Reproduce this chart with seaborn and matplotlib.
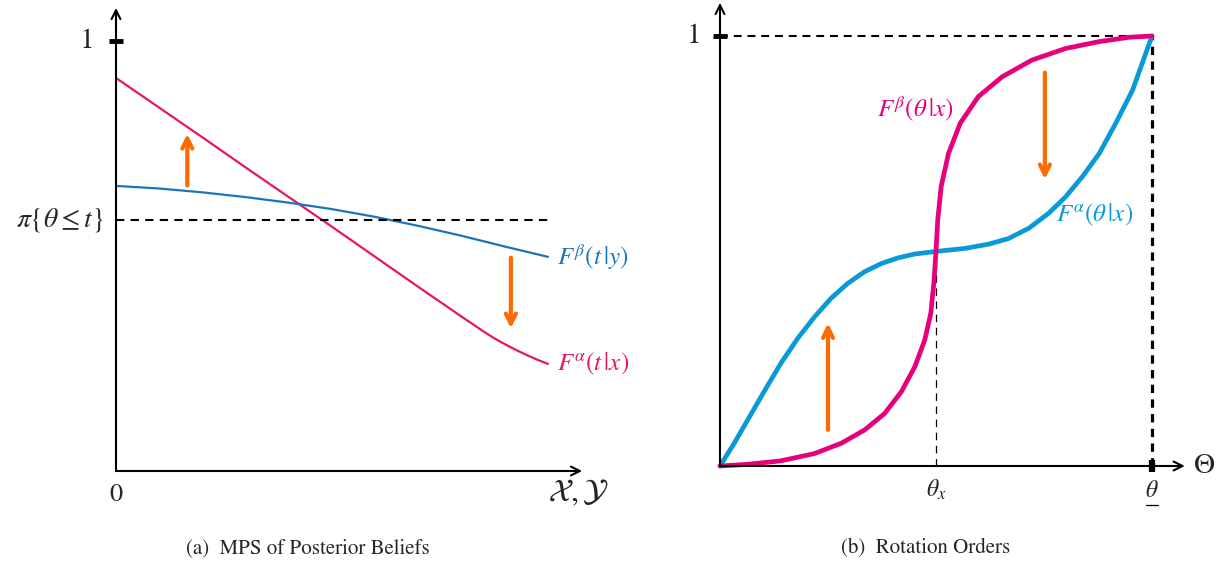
import numpy as np
import pandas as pd
import matplotlib
matplotlib.use("Agg")
import matplotlib.pyplot as plt
import seaborn as sns

# ---------------- data: panel (a) MPS of Posterior Beliefs ----------------
a_red_x = [0.000, 0.100, 0.200, 0.300, 0.400, 0.500, 0.600, 0.700, 0.800, 0.850,
           0.875, 0.900, 0.925, 0.950, 0.975, 1.000]
a_red_y = [0.914, 0.845, 0.776, 0.706, 0.637, 0.568, 0.498, 0.428, 0.359, 0.325,
           0.309, 0.295, 0.282, 0.270, 0.259, 0.249]
a_blue_x = [0.000, 0.100, 0.200, 0.300, 0.400, 0.500, 0.600, 0.700, 0.800, 0.900, 1.000]
a_blue_y = [0.663, 0.657, 0.648, 0.637, 0.624, 0.609, 0.591, 0.570, 0.547, 0.522, 0.498]
a_threshold = 0.584          # pi{theta <= t}
a_up_arrow = [0.165, 0.664, 0.784]    # x, y_from, y_to
a_down_arrow = [0.914, 0.496, 0.332]

# ---------------- data: panel (b) Rotation Orders ----------------
b_blue_x = [0.000, 0.033, 0.064, 0.102, 0.141, 0.180, 0.219, 0.257, 0.296, 0.335, 0.374,
            0.412, 0.451, 0.500, 0.567, 0.622, 0.668, 0.715, 0.761, 0.800, 0.839, 0.878,
            0.916, 0.955, 1.000]
b_blue_y = [0.000, 0.053, 0.107, 0.173, 0.239, 0.297, 0.347, 0.390, 0.425, 0.452, 0.471,
            0.484, 0.493, 0.499, 0.506, 0.516, 0.529, 0.553, 0.588, 0.626, 0.673, 0.727,
            0.797, 0.874, 1.000]
b_red_x = [0.000, 0.064, 0.141, 0.219, 0.281, 0.335, 0.381, 0.420, 0.451, 0.474, 0.488,
           0.495, 0.500, 0.504, 0.512, 0.529, 0.556, 0.598, 0.653, 0.722, 0.800, 0.878,
           0.947, 1.000]
b_red_y = [0.000, 0.004, 0.012, 0.029, 0.053, 0.084, 0.122, 0.173, 0.231, 0.293, 0.355,
           0.425, 0.499, 0.572, 0.650, 0.727, 0.797, 0.859, 0.905, 0.944, 0.971, 0.987,
           0.997, 1.000]
b_theta_x = 0.5
b_theta_bar = 1.0
b_up_arrow = [0.250, 0.084, 0.332]
b_down_arrow = [0.752, 0.915, 0.667]

# ---------------- style ----------------
sns.set_theme(style="white")
plt.rcParams["font.family"] = ["STIXGeneral", "DejaVu Serif"]
plt.rcParams["mathtext.fontset"] = "stix"

RED_A = "#E8175D"
BLUE_A = "#1A75BC"
RED_B = "#E6007E"
BLUE_B = "#0A99D8"
ORANGE = "#FF6A00"

W, H = 1232, 565
fig = plt.figure(figsize=(W / 100, H / 100), dpi=100)


def make_ax(x0px, y0px_top, sx, sy, xlim, ylim):
    left = x0px + xlim[0] * sx
    width = (xlim[1] - xlim[0]) * sx
    bottom = (H - y0px_top) + ylim[0] * sy
    height = (ylim[1] - ylim[0]) * sy
    ax = fig.add_axes([left / W, bottom / H, width / W, height / H])
    ax.set_xlim(xlim)
    ax.set_ylim(ylim)
    ax.axis("off")
    return ax


def axis_arrow(ax, xy, xytext):
    ax.annotate("", xy=xy, xytext=xytext,
                arrowprops=dict(arrowstyle="->", lw=1.5, color="black",
                                mutation_scale=16, shrinkA=0, shrinkB=0),
                annotation_clip=False)


def move_arrow(ax, spec):
    x, y0, y1 = spec
    ax.annotate("", xy=(x, y1), xytext=(x, y0),
                arrowprops=dict(arrowstyle="->", lw=3.0, color=ORANGE,
                                mutation_scale=18, shrinkA=0, shrinkB=0),
                annotation_clip=False)


# ---------------- panel (a) ----------------
axA = make_ax(116, 471, 432, 430, (-0.05, 1.15), (-0.06, 1.12))
sns.lineplot(x=a_red_x, y=a_red_y, ax=axA, color=RED_A, lw=1.6, sort=False,
             solid_joinstyle="round")
sns.lineplot(x=a_blue_x, y=a_blue_y, ax=axA, color=BLUE_A, lw=1.6, sort=False,
             solid_joinstyle="round")
axA.plot([0, 1.0], [a_threshold, a_threshold], color="black", lw=1.5, ls=(0, (4, 3)))
axis_arrow(axA, (1.079, 0), (0, 0))
axis_arrow(axA, (0, 1.077), (0, 0))
axA.plot([-0.016, 0.016], [1, 1], color="black", lw=3.5, solid_capstyle="butt")
axA.text(-0.05, 1.0, "1", ha="right", va="center", fontsize=21)
axA.text(0.0, -0.055, "0", ha="center", va="center", fontsize=19)
axA.text(1.07, -0.052, r"$\mathcal{X},\mathcal{Y}$", ha="center", va="center", fontsize=23)
axA.text(-0.028, a_threshold, r"$\pi\{\theta\leq t\}$", ha="right", va="center", fontsize=20)
axA.text(1.02, 0.498, r"$F^{\beta}(t\,|y)$", ha="left", va="center", fontsize=18, color=BLUE_A)
axA.text(1.02, 0.249, r"$F^{\alpha}(t\,|x)$", ha="left", va="center", fontsize=18, color=RED_A)
move_arrow(axA, a_up_arrow)
move_arrow(axA, a_down_arrow)
axA.text(0.445, -0.18, "(a)  MPS of Posterior Beliefs", ha="center", va="center", fontsize=15)

# ---------------- panel (b) ----------------
axB = make_ax(720, 466, 432, 430, (-0.05, 1.2), (-0.06, 1.08))
axB.plot([0, b_theta_bar], [1, 1], color="black", lw=1.5, ls=(0, (3.8, 2.8)))
axB.plot([b_theta_bar, b_theta_bar], [0, 1], color="black", lw=2.3, ls=(0, (2.6, 2.0)))
axB.plot([b_theta_x, b_theta_x], [0, 0.5], color="black", lw=0.9, ls=(0, (6, 4.5)))
sns.lineplot(x=b_blue_x, y=b_blue_y, ax=axB, color=BLUE_B, lw=3.4, sort=False,
             solid_joinstyle="round", solid_capstyle="round")
sns.lineplot(x=b_red_x, y=b_red_y, ax=axB, color=RED_B, lw=3.4, sort=False,
             solid_joinstyle="round", solid_capstyle="round")
axis_arrow(axB, (1.076, 0), (0, 0))
axis_arrow(axB, (0, 1.077), (0, 0))
axB.plot([-0.016, 0.016], [1, 1], color="black", lw=3.5, solid_capstyle="butt")
axB.plot([b_theta_bar, b_theta_bar], [-0.014, 0.014], color="black", lw=4.5, solid_capstyle="butt")
axB.text(-0.042, 1.0, "1", ha="right", va="center", fontsize=21)
axB.text(b_theta_x, -0.055, r"$\theta_x$", ha="center", va="center", fontsize=17)
axB.text(b_theta_bar, -0.058, r"$\theta$", ha="center", va="center", fontsize=17)
axB.plot([b_theta_bar - 0.013, b_theta_bar + 0.013], [-0.09, -0.09], color="black", lw=0.9,
         clip_on=False)
axB.text(1.12, 0.0, r"$\Theta$", ha="center", va="center", fontsize=21)
axB.text(0.452, 0.830, r"$F^{\beta}(\theta\,|x)$", ha="center", va="center", fontsize=18, color=RED_B)
axB.text(0.866, 0.584, r"$F^{\alpha}(\theta\,|x)$", ha="center", va="center", fontsize=18, color=BLUE_B)
move_arrow(axB, b_up_arrow)
move_arrow(axB, b_down_arrow)
axB.text(0.475, -0.191, "(b)  Rotation Orders", ha="center", va="center", fontsize=15)

fig.savefig("out.png", dpi=100)
